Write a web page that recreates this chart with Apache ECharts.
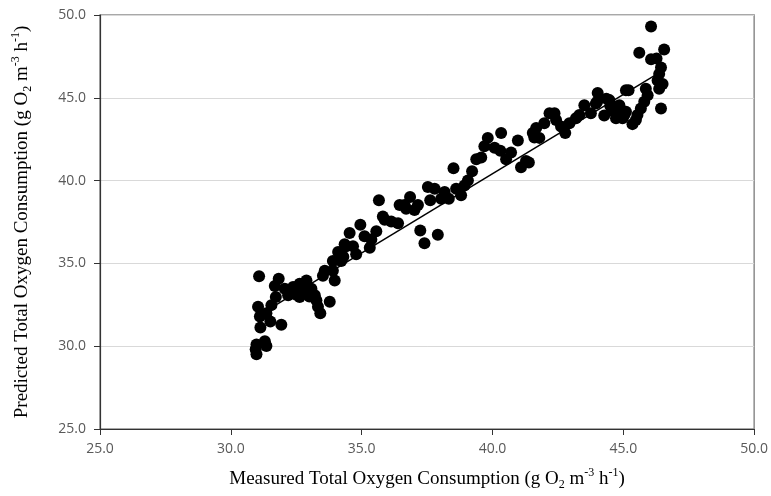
<!DOCTYPE html>
<html>
<head>
<meta charset="utf-8">
<script src="https://cdn.jsdelivr.net/npm/echarts@6/dist/echarts.min.js"></script>
<style>html,body{margin:0;padding:0;background:#fff}#c{width:771px;height:496px}</style>
</head>
<body>
<div id="c"></div>
<script>
const measured = [31.08,31.83,31.68,32.06,31.72,31.55,31.04,31.36,31.11,31.51,31.13,31.93,31.30,30.98,31.36,30.95,30.98,
32.19,32.44,32.63,32.82,32.89,32.63,32.38,33.08,33.21,33.27,33.33,33.42,33.78,33.97,33.59,33.52,33.90,34.10,34.22,34.41,34.79,35.31,33.90,
34.35,34.54,34.67,34.95,35.11,35.37,35.56,35.66,35.81,35.88,36.13,36.39,36.45,36.64,36.85,37.02,37.15,37.24,37.40,37.91,
37.53,37.79,37.62,38.04,38.17,38.33,38.51,38.61,38.80,38.93,39.06,39.22,39.38,40.52,41.09,41.28,
39.57,39.69,39.82,40.08,40.33,40.71,40.97,41.39,41.54,41.67,41.79,41.98,42.18,42.37,42.43,42.62,42.78,42.94,43.19,43.32,43.51,43.76,
44.02,43.95,44.27,44.47,44.66,44.72,44.85,45.10,45.10,
46.06,45.61,46.56,46.06,46.27,46.44,46.37,46.31,46.50,46.37,45.86,45.93,46.44,45.80,45.67,45.54,45.35,45.48,45.20,45.04,44.85,44.78,44.35,44.00,44.97,
32.50,32.90,33.00,34.30,36.70,38.20,40.30,41.60,44.50,44.60];
const predicted = [34.22,34.07,33.63,33.47,32.97,32.48,32.38,31.99,31.79,31.49,31.13,31.29,30.30,30.11,30.01,29.81,29.51,
33.08,33.27,32.97,33.27,33.97,33.77,33.57,33.47,33.08,32.78,32.38,31.99,32.68,33.97,34.56,34.26,35.15,35.69,35.15,36.04,35.55,35.94,34.56,
36.15,36.83,36.04,37.33,36.64,36.44,36.94,38.82,37.83,37.63,37.53,37.43,38.52,38.52,39.01,38.22,38.52,36.99,36.21,36.73,
39.61,39.51,38.82,38.91,39.31,38.91,40.75,39.51,39.11,39.71,40.01,40.56,41.29,41.29,40.80,41.19,
41.39,42.08,42.58,41.98,42.87,41.69,42.42,41.09,42.87,43.17,42.58,43.47,44.06,44.06,43.66,43.27,42.87,43.47,43.76,43.96,44.55,44.06,
45.29,44.66,43.93,44.86,44.46,43.76,44.55,45.45,44.16,
49.30,47.72,47.92,47.33,47.37,46.83,46.44,46.04,45.84,45.55,45.55,45.15,44.36,44.76,44.36,43.96,43.41,43.66,45.45,43.96,44.36,43.86,44.95,44.76,43.76,
33.10,33.60,33.00,35.40,38.30,39.00,41.80,42.60,44.50,44.20];
const trendX = [31.0, 46.3];
const trendY = [31.8, 46.45];
const xMin = 25, xMax = 50, yMin = 25, yMax = 50, tickStep = 5;

const pts = measured.map((x, i) => [x, predicted[i]]);
const trend = trendX.map((x, i) => [x, trendY[i]]);
const fmt = v => v.toFixed(1);
const serif = '"Liberation Serif", "Times New Roman", serif';
const rich = {
  t: {fontFamily: serif, fontSize: 19, color: '#000', lineHeight: 24, verticalAlign: 'middle'},
  sp: {fontFamily: serif, fontSize: 12, color: '#000', lineHeight: 24, verticalAlign: 'top', padding: [0,0,8,0]},
  sb: {fontFamily: serif, fontSize: 12, color: '#000', lineHeight: 24, verticalAlign: 'bottom', padding: [6,0,0,0]}
};
const mkName = w => '{t|' + w + ' Total Oxygen Consumption (g O}{sb|2}{t| m}{sp|-3}{t| h}{sp|-1}{t|)}';

const chart = echarts.init(document.getElementById('c'), null, {renderer: 'canvas'});
chart.setOption({
  animation: false,
  grid: {left: 100, right: 16, top: 15, bottom: 60, show: true, borderColor: '#8c8c8c', borderWidth: 1.5, backgroundColor: 'transparent'},
  xAxis: {
    type: 'value', min: xMin, max: xMax, interval: tickStep,
    name: mkName('Measured'), nameLocation: 'middle', nameGap: 38,
    nameTextStyle: {rich: rich},
    axisLine: {show: true, lineStyle: {color: '#333', width: 1.2}},
    axisTick: {show: true, length: 6, lineStyle: {color: '#333'}},
    axisLabel: {formatter: fmt, color: '#595959', fontFamily: '"Open Sans"', fontSize: 14, margin: 13},
    splitLine: {show: false}
  },
  yAxis: {
    type: 'value', min: yMin, max: yMax, interval: tickStep,
    name: mkName('Predicted'), nameLocation: 'middle', nameGap: 66, nameRotate: 90,
    nameTextStyle: {rich: rich},
    axisLine: {show: true, lineStyle: {color: '#333', width: 1.2}},
    axisTick: {show: true, length: 6, lineStyle: {color: '#333'}},
    axisLabel: {formatter: fmt, color: '#595959', fontFamily: '"Open Sans"', fontSize: 14, margin: 14},
    splitLine: {show: true, lineStyle: {color: '#d9d9d9', width: 1}}
  },
  series: [
    {type: 'scatter', data: pts, symbol: 'circle', symbolSize: 12, itemStyle: {color: '#000', opacity: 1}, z: 2},
    {type: 'line', data: trend, showSymbol: false, symbol: 'none', lineStyle: {color: '#000', width: 1.5}, z: 3}
  ]
});
</script>
</body>
</html>
